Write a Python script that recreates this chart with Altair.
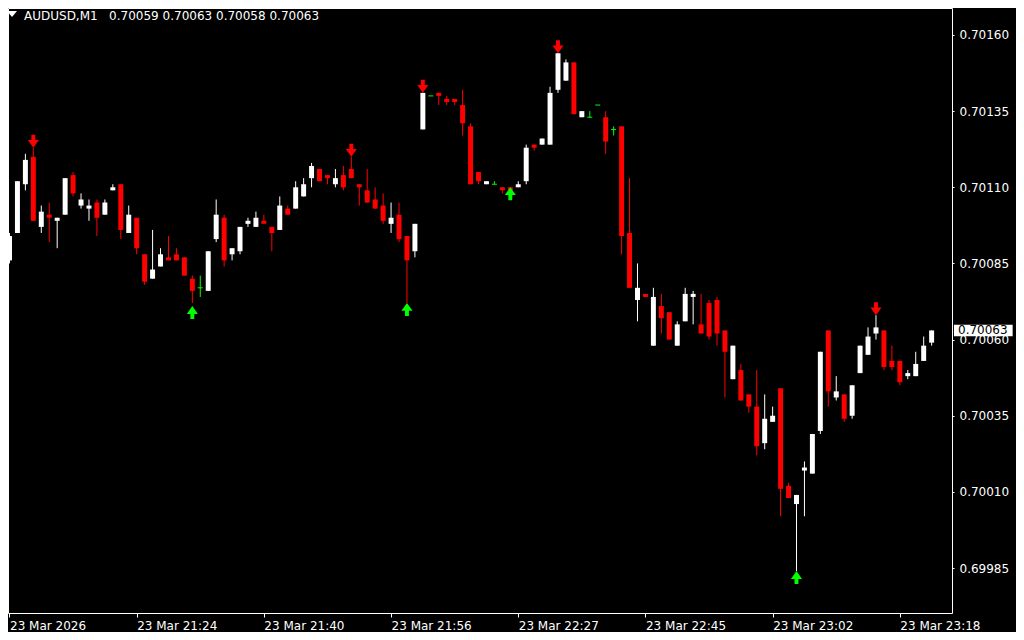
import json
import altair as alt
import pandas as pd

symbol = "AUDUSD,M1"
tick_pos = [0, 16, 32, 48, 64, 80, 96, 112]
tick_labels = ["23 Mar 2026", "23 Mar 21:24", "23 Mar 21:40", "23 Mar 21:56",
               "23 Mar 22:27", "23 Mar 22:45", "23 Mar 23:02", "23 Mar 23:18"]
price_ticks = [0.69985, 0.70010, 0.70035, 0.70060, 0.70085, 0.70110, 0.70135, 0.70160]

open_ = [0.70086, 0.70095, 0.70111, 0.70120, 0.70097, 0.70101, 0.70099, 0.70101, 0.70114, 0.70104,
         0.70103, 0.70105, 0.70101, 0.70109, 0.70111, 0.70095, 0.70100, 0.70088, 0.70080, 0.70084,
         0.70087, 0.70088, 0.70087, 0.70080, 0.70077, 0.70076, 0.70093, 0.70100, 0.70088, 0.70089,
         0.70098, 0.70097, 0.70099, 0.70097, 0.70096, 0.70103, 0.70103, 0.70107, 0.70113, 0.70116,
         0.70114, 0.70111, 0.70114, 0.70116, 0.70111, 0.70109, 0.70106, 0.70104, 0.70098, 0.70101,
         0.70094, 0.70089, 0.70129, 0.70140, 0.70141, 0.70139, 0.70139, 0.70137, 0.70130, 0.70115,
         0.70111, 0.70111, 0.70110, 0.70110, 0.70110, 0.70112, 0.70124, 0.70124, 0.70124, 0.70142,
         0.70145, 0.70151, 0.70133, 0.70133, 0.70137, 0.70133, 0.70129, 0.70130, 0.70095, 0.70073,
         0.70075, 0.70058, 0.70071, 0.70069, 0.70058, 0.70066, 0.70074, 0.70065, 0.70072, 0.70073,
         0.70063, 0.70047, 0.70050, 0.70042, 0.70038, 0.70026, 0.70033, 0.70044, 0.70012, 0.70006,
         0.70017, 0.70016, 0.70030, 0.70063, 0.70041, 0.70042, 0.70035, 0.70049, 0.70055, 0.70062,
         0.70063, 0.70053, 0.70053, 0.70048, 0.70048, 0.70053, 0.70059]

high = [0.70095, 0.70112, 0.70121, 0.70123, 0.70104, 0.70105, 0.70100, 0.70113, 0.70115, 0.70108,
        0.70106, 0.70106, 0.70106, 0.70111, 0.70111, 0.70104, 0.70100, 0.70088, 0.70096, 0.70090,
        0.70094, 0.70090, 0.70087, 0.70081, 0.70081, 0.70089, 0.70106, 0.70101, 0.70090, 0.70097,
        0.70100, 0.70102, 0.70101, 0.70097, 0.70107, 0.70104, 0.70112, 0.70113, 0.70118, 0.70116,
        0.70114, 0.70116, 0.70117, 0.70120, 0.70111, 0.70116, 0.70110, 0.70108, 0.70105, 0.70105,
        0.70094, 0.70098, 0.70141, 0.70140, 0.70141, 0.70140, 0.70139, 0.70142, 0.70131, 0.70115,
        0.70112, 0.70112, 0.70110, 0.70110, 0.70112, 0.70124, 0.70124, 0.70126, 0.70143, 0.70154,
        0.70152, 0.70151, 0.70135, 0.70135, 0.70137, 0.70135, 0.70130, 0.70130, 0.70113, 0.70085,
        0.70075, 0.70077, 0.70075, 0.70069, 0.70066, 0.70077, 0.70076, 0.70075, 0.70073, 0.70074,
        0.70063, 0.70058, 0.70052, 0.70042, 0.70050, 0.70042, 0.70038, 0.70044, 0.70013, 0.70009,
        0.70020, 0.70029, 0.70056, 0.70063, 0.70048, 0.70042, 0.70045, 0.70058, 0.70064, 0.70068,
        0.70063, 0.70058, 0.70053, 0.70050, 0.70056, 0.70061, 0.70063]

low = [0.70085, 0.70095, 0.70109, 0.70099, 0.70095, 0.70092, 0.70090, 0.70101, 0.70107, 0.70103,
       0.70099, 0.70094, 0.70101, 0.70109, 0.70093, 0.70095, 0.70088, 0.70078, 0.70080, 0.70084,
       0.70086, 0.70086, 0.70081, 0.70072, 0.70074, 0.70076, 0.70092, 0.70084, 0.70086, 0.70088,
       0.70097, 0.70097, 0.70098, 0.70089, 0.70096, 0.70101, 0.70103, 0.70107, 0.70110, 0.70112,
       0.70111, 0.70110, 0.70109, 0.70113, 0.70104, 0.70105, 0.70103, 0.70098, 0.70095, 0.70092,
       0.70072, 0.70087, 0.70129, 0.70140, 0.70137, 0.70137, 0.70137, 0.70127, 0.70111, 0.70111,
       0.70111, 0.70111, 0.70108, 0.70109, 0.70110, 0.70111, 0.70122, 0.70124, 0.70124, 0.70141,
       0.70145, 0.70134, 0.70133, 0.70133, 0.70137, 0.70121, 0.70127, 0.70088, 0.70077, 0.70066,
       0.70074, 0.70058, 0.70062, 0.70060, 0.70058, 0.70066, 0.70065, 0.70062, 0.70060, 0.70058,
       0.70041, 0.70047, 0.70040, 0.70036, 0.70022, 0.70024, 0.70033, 0.70002, 0.70008, 0.69984,
       0.70002, 0.70016, 0.70029, 0.70038, 0.70040, 0.70033, 0.70034, 0.70049, 0.70055, 0.70060,
       0.70050, 0.70050, 0.70045, 0.70047, 0.70048, 0.70053, 0.70058]

close = [0.70094, 0.70112, 0.70119, 0.70099, 0.70102, 0.70100, 0.70100, 0.70113, 0.70108, 0.70106,
         0.70104, 0.70100, 0.70105, 0.70110, 0.70096, 0.70101, 0.70090, 0.70079, 0.70083, 0.70088,
         0.70086, 0.70086, 0.70081, 0.70076, 0.70077, 0.70089, 0.70101, 0.70086, 0.70090, 0.70097,
         0.70099, 0.70100, 0.70098, 0.70095, 0.70104, 0.70101, 0.70110, 0.70111, 0.70117, 0.70112,
         0.70113, 0.70113, 0.70110, 0.70113, 0.70110, 0.70105, 0.70103, 0.70099, 0.70100, 0.70093,
         0.70086, 0.70098, 0.70141, 0.70140, 0.70140, 0.70138, 0.70138, 0.70131, 0.70111, 0.70112,
         0.70112, 0.70111, 0.70109, 0.70109, 0.70111, 0.70123, 0.70123, 0.70126, 0.70141, 0.70154,
         0.70151, 0.70134, 0.70135, 0.70133, 0.70137, 0.70125, 0.70129, 0.70094, 0.70077, 0.70077,
         0.70074, 0.70074, 0.70067, 0.70060, 0.70065, 0.70075, 0.70075, 0.70062, 0.70061, 0.70062,
         0.70056, 0.70058, 0.70040, 0.70038, 0.70025, 0.70034, 0.70035, 0.70011, 0.70008, 0.70009,
         0.70018, 0.70029, 0.70056, 0.70043, 0.70043, 0.70034, 0.70045, 0.70058, 0.70061, 0.70064,
         0.70051, 0.70051, 0.70046, 0.70049, 0.70052, 0.70058, 0.70063]

# signal arrows: bar index and price at the arrow tip
sell_bars = [3, 43, 52, 69, 109]
sell_price = [0.70123, 0.70120, 0.70141, 0.70154, 0.70068]
buy_bars = [23, 50, 63, 99]
buy_price = [0.70071, 0.70072, 0.70110, 0.69984]

FONT = "DejaVu Sans"
WHITE = "#ffffff"
W, H = 944, 605

df = pd.DataFrame({"i": list(range(len(open_))), "o": open_, "h": high, "l": low, "c": close})

x_scale = alt.Scale(domain=[-0.1875, 118.5625], nice=False, zero=False)
y_scale = alt.Scale(domain=[0.6997024, 0.7016886], nice=False, zero=False)

label_expr = "%s[indexof(%s, datum.value)]" % (json.dumps(tick_labels), json.dumps(tick_pos))
x_axis = alt.Axis(values=tick_pos, labelExpr=label_expr, labelAlign="left", domain=False,
                  grid=False, tickColor=WHITE, tickSize=4, labelPadding=3, labelColor=WHITE,
                  labelFont=FONT, labelFontSize=12, labelOverlap=False, labelFlush=False)
y_axis = alt.Axis(orient="right", values=price_ticks, format=".5f", domain=False, grid=False,
                  tickColor=WHITE, tickSize=2, labelPadding=5, labelColor=WHITE, labelFont=FONT,
                  labelFontSize=12, labelOverlap=False, labelFlush=False)

color = alt.Color("dir:N", scale=alt.Scale(domain=["up", "down", "doji"],
                                           range=["#ffffff", "#ff0000", "#00ff00"]), legend=None)

base = alt.Chart(df).transform_calculate(
    dir="datum.c > datum.o ? 'up' : (datum.c < datum.o ? 'down' : 'doji')",
    x0="datum.i - 0.3125",
    x1="datum.i + 0.3125",
)

wicks = base.mark_rule(strokeWidth=1).encode(
    x=alt.X("i:Q", scale=x_scale, axis=x_axis, title=""),
    y=alt.Y("l:Q", scale=y_scale, axis=y_axis, title=""),
    y2="h:Q",
    color=color,
)
bodies = base.transform_filter("datum.dir != 'doji'").mark_rect().encode(
    x=alt.X("x0:Q", scale=x_scale, title=""),
    x2="x1:Q",
    y=alt.Y("o:Q", scale=y_scale, title=""),
    y2="c:Q",
    color=color,
)
dojis = base.transform_filter("datum.dir == 'doji'").mark_rule(strokeWidth=1).encode(
    x=alt.X("x0:Q", scale=x_scale, title=""),
    x2="x1:Q",
    y=alt.Y("o:Q", scale=y_scale, title=""),
    color=color,
)

DOWN_ARROW = "M0,0 L-0.85,-1.2 L-0.3,-1.2 L-0.3,-2 L0.3,-2 L0.3,-1.2 L0.85,-1.2 Z"
UP_ARROW = "M0,0 L-0.85,1.2 L-0.3,1.2 L-0.3,2 L0.3,2 L0.3,1.2 L0.85,1.2 Z"

sell = alt.Chart(pd.DataFrame({"i": sell_bars, "p": sell_price})).mark_point(
    shape=DOWN_ARROW, size=169, filled=True, color="#ff0000", opacity=1, strokeWidth=0
).encode(x=alt.X("i:Q", scale=x_scale, title=""), y=alt.Y("p:Q", scale=y_scale, title=""))

buy = alt.Chart(pd.DataFrame({"i": buy_bars, "p": buy_price})).mark_point(
    shape=UP_ARROW, size=169, filled=True, color="#00ff00", opacity=1, strokeWidth=0
).encode(x=alt.X("i:Q", scale=x_scale, title=""), y=alt.Y("p:Q", scale=y_scale, title=""))

last_df = pd.DataFrame({"p": [close[-1]], "t": ["%.5f" % close[-1]]})
price_box = alt.Chart(last_df).mark_point(
    shape="M-1,-0.195 L1,-0.195 L1,0.195 L-1,0.195 Z", size=3446, filled=True,
    color=WHITE, opacity=1, strokeWidth=0
).encode(x=alt.value(W + 31.3), y=alt.Y("p:Q", scale=y_scale, title=""))
price_text = alt.Chart(last_df).mark_text(
    align="left", baseline="middle", font=FONT, fontSize=12, color="#000000"
).encode(x=alt.value(W + 6), y=alt.Y("p:Q", scale=y_scale, title=""), text="t:N")

header_str = symbol + "\u00a0\u00a0\u00a0" + " ".join(
    "%.5f" % v for v in [open_[-1], high[-1], low[-1], close[-1]])
header_df = pd.DataFrame({"t": [header_str]})
tri = alt.Chart(header_df).mark_point(
    shape="M-1,-0.6 L1,-0.6 L0,0.6 Z", size=100, filled=True, color=WHITE, opacity=1,
    strokeWidth=0
).encode(x=alt.value(4), y=alt.value(6))
header = alt.Chart(header_df).mark_text(
    align="left", baseline="alphabetic", font=FONT, fontSize=12, color=WHITE
).encode(x=alt.value(16), y=alt.value(11.5), text="t:N")

chart = alt.layer(
    wicks, bodies, dojis, sell, buy, price_box, price_text, tri, header
).properties(
    width=W,
    height=H,
    padding={"left": 0, "top": 0, "right": 64, "bottom": 19},
    autosize=alt.AutoSizeParams(type="none"),
    background="#000000",
    usermeta={"embedOptions": {"defaultStyle": "html,body{background:#000000;overflow:hidden;}"}},
).configure_view(
    stroke=WHITE, strokeWidth=1
)

chart.save("out.html", embed_options={"renderer": "svg", "actions": False})
